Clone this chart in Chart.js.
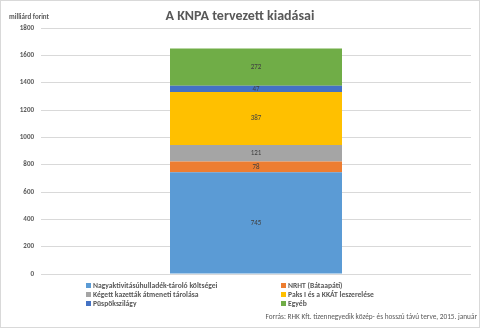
<!DOCTYPE html>
<html>
<head>
<meta charset="utf-8">
<script src="https://cdn.jsdelivr.net/npm/chart.js@4"></script>
<style>
  html, body { margin: 0; padding: 0; background: #fff; }
  body { width: 480px; height: 328px; position: relative; overflow: hidden; font-family: Calibri, Carlito, "Liberation Sans", Arial, sans-serif; }
  #frame { position: absolute; left: 0; top: 0; width: 478px; height: 326px; border: 1px solid #d9d9d9; }
  #chart { position: absolute; left: 0; top: 0; }
  #title { position: absolute; left: 0; width: 480px; top: 7px; text-align: center; font-size: 14px; font-weight: bold; color: #595959; }
  #unit { position: absolute; left: 9px; top: 12px; font-size: 7px; font-weight: bold; color: #595959; }
  #legend { position: absolute; left: 86px; top: 282px; width: 300px; }
  .item { position: absolute; font-size: 7.6px; font-weight: bold; color: #595959; white-space: nowrap; line-height: 8px; }
  .item span { display: inline-block; width: 5px; height: 5px; margin-right: 2px; vertical-align: 0px; }
  #source { position: absolute; right: 3px; top: 312px; font-size: 7.3px; color: #595959; }
</style>
</head>
<body>
<div id="frame"></div>
<canvas id="chart" width="480" height="328"></canvas>
<div id="title">A KNPA tervezett kiadásai</div>
<div id="unit">milliárd forint</div>
<div id="legend"></div>
<div id="source">Forrás: RHK Kft. tizennegyedik közép- és hosszú távú terve, 2015. január</div>
<script>
const categories = ['KNPA'];
const seriesNames = [
  'Nagyaktivitásúhulladék-tároló költségei',
  'NRHT (Bátaapáti)',
  'Kégett kazetták átmeneti tárolása',
  'Paks I és a KKÁT leszerelése',
  'Püspökszilágy',
  'Egyéb'
];
const seriesValues = [745, 78, 121, 387, 47, 272];
const seriesColors = ['#5b9bd5', '#ed7d31', '#a5a5a5', '#ffc000', '#4472c4', '#70ad47'];
const yTicks = [0, 200, 400, 600, 800, 1000, 1200, 1400, 1600, 1800];

const datasets = seriesNames.map((name, i) => ({
  label: name,
  data: [seriesValues[i]],
  backgroundColor: seriesColors[i],
  borderWidth: 0,
  barPercentage: 0.4,
  categoryPercentage: 1
}));

// value labels in the middle of each segment
const valueLabels = {
  id: 'valueLabels',
  afterDatasetsDraw(chart) {
    const ctx = chart.ctx;
    ctx.save();
    ctx.font = '7px Calibri, Carlito, "Liberation Sans", sans-serif';
    ctx.fillStyle = '#404040';
    ctx.textAlign = 'center';
    ctx.textBaseline = 'middle';
    chart.data.datasets.forEach((ds, i) => {
      const bar = chart.getDatasetMeta(i).data[0];
      ctx.fillText(String(ds.data[0]), bar.x, (bar.y + bar.base) / 2);
    });
    ctx.restore();
  }
};

new Chart(document.getElementById('chart'), {
  type: 'bar',
  data: { labels: categories, datasets: datasets },
  options: {
    responsive: false,
    animation: false,
    layout: { padding: { left: 0, right: 9, top: 28, bottom: 54 } },
    plugins: { legend: { display: false }, tooltip: { enabled: false }, title: { display: false } },
    scales: {
      x: { stacked: true, display: false },
      y: {
        stacked: true,
        min: 0,
        max: 1800,
        afterBuildTicks: (s) => { s.ticks = yTicks.map(v => ({ value: v })); },
        afterFit: (s) => { s.width = 41; },
        border: { display: false },
        grid: { color: '#d9d9d9', drawTicks: false },
        ticks: {
          padding: 7,
          color: '#595959',
          callback: (v) => String(v),
          font: { size: 7, weight: 'bold', family: 'Calibri, Carlito, "Liberation Sans", sans-serif' }
        }
      }
    }
  },
  plugins: [valueLabels]
});

// legend in two columns
const legend = document.getElementById('legend');
const colX = [0, 195];
seriesNames.forEach((name, i) => {
  const d = document.createElement('div');
  d.className = 'item';
  d.style.left = colX[i % 2] + 'px';
  d.style.top = (Math.floor(i / 2) * 9) + 'px';
  d.innerHTML = '<span style="background:' + seriesColors[i] + '"></span>' + name;
  legend.appendChild(d);
});
</script>
</body>
</html>
